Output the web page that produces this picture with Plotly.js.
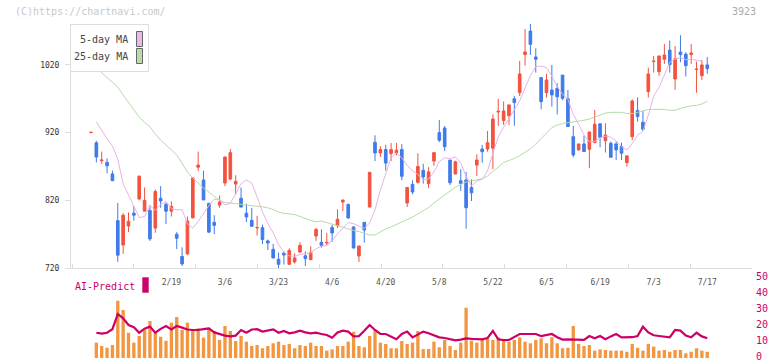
<!DOCTYPE html>
<html>
<head>
<meta charset="utf-8">
<script src="https://cdn.plot.ly/plotly-3.0.1.min.js"></script>
<style>
  html, body { margin: 0; padding: 0; background: #fff; }
  #chart { width: 772px; height: 361px; }
</style>
</head>
<body>
<div id="chart"></div>
<script>
// Daily candles, one per trading session (index 0 = first session shown)
const tickIdx  = [15, 25, 35, 45, 55, 65, 75, 85, 95, 105, 115];
const tickText = ['2/19', '3/6', '3/23', '4/6', '4/20', '5/8', '5/22', '6/5', '6/19', '7/3', '7/17'];

const open = [
  920, 905, 878.5, 876, 859, 790, 754, 782, 801, 822,
  804, 805, 779, 823, 814, 804, 770, 737, 741, 794,
  869, 850, 815.6, 787.5, 813, 845.6, 851.5, 844, 823, 801,
  790.4, 779.3, 779.6, 760, 747.6, 732.8, 742.2, 725.4, 729, 743.6,
  738, 732.3, 767.3, 758, 757, 780, 782.6, 817.5, 814, 780.6,
  737.7, 787.5, 810, 905.7, 890, 895, 889, 890, 895, 816,
  843.6, 846.6, 864.3, 844.6, 878, 920, 926.8, 879.5, 858.8, 849,
  850, 839, 872, 895.8, 895.8, 897, 950.5, 938, 945, 970,
  979, 1035.3, 1070, 1031.8, 1001.3, 979, 983, 985.5, 1005, 970,
  914, 894.5, 903.3, 895.4, 905.3, 933, 908, 904.3, 903.3, 899.4,
  875.8, 914, 952.6, 935.3, 980.6, 1025, 1010, 1028.4, 1042, 999.3,
  1039, 1036, 1035.3, 1013.4, 1004, 1020
];
const high = [
  920.6, 908, 892, 882, 864, 816, 801, 802, 811, 857,
  839, 813, 836, 841, 817, 818.5, 773, 750.5, 796, 854.5,
  892, 864, 815.6, 798, 827, 884.5, 896, 857, 839, 815,
  809, 797, 784, 762, 755.5, 742.7, 744.6, 749, 741.7, 758,
  744.6, 752, 779, 777, 771.7, 784, 806.7, 822, 815, 781.6,
  752.5, 787.5, 861.4, 916, 900, 902, 904.7, 904.7, 903, 839,
  849.6, 889.5, 874, 869, 890.4, 938.6, 929.7, 879.5, 878.5, 866,
  862, 851, 888, 902, 922.5, 947, 970, 966, 961, 974,
  1026, 1073, 1080.5, 1044.6, 1001.3, 1006.7, 1020, 993, 1005, 983,
  930, 903.3, 915.6, 921, 953.5, 933, 934, 906.8, 906.8, 905.3,
  887, 969, 972, 952, 1016, 1033.3, 1033.3, 1051, 1056, 1048,
  1064, 1038.7, 1051, 1025, 1027.4, 1031.8
];
const low = [
  919.6, 876, 874, 860, 849, 729, 741, 773, 790, 820,
  804, 760, 772, 809, 785, 796, 748, 723, 739, 794,
  863, 820.5, 772, 770, 809, 841, 849.6, 829, 810, 788,
  781.6, 768, 755.5, 746.6, 734.8, 720, 725, 725.4, 726.4, 742,
  723, 732.3, 760, 750, 754, 758.4, 779, 804, 792.4, 748.6,
  729, 757.4, 810, 878, 884, 864, 878, 886.5, 849.6, 810,
  829, 844.6, 844.6, 838, 871, 906, 892.8, 842.6, 858.8, 834,
  778, 819, 856, 875.5, 891.8, 866, 930, 931.4, 931.4, 930,
  974, 1019, 1034.8, 1008.7, 954.5, 971.8, 958.5, 947, 968, 929,
  883.6, 893.5, 892, 867.4, 904.3, 898.4, 890.5, 883.6, 879.7, 879.7,
  870, 909, 936.3, 922.5, 971.8, 1008.7, 1004, 1021.5, 1008.7, 983,
  1024, 1002.8, 1021.5, 979, 997.8, 1007
];
const close = [
  920.5, 884, 879.5, 871, 849, 739, 798, 789, 798, 855.5,
  820, 763, 833, 819, 804, 811, 764, 726, 789.5, 853,
  872, 820.5, 773, 783, 817.5, 884, 890.4, 848, 810, 795.4,
  781.6, 779.8, 762, 757, 734.8, 725.4, 739.2, 746, 734.8, 753.5,
  733.8, 743, 777, 753.5, 757.8, 771.7, 792, 820, 794, 749.6,
  752.5, 776.2, 861.4, 890, 895, 875, 895, 894, 855.5, 839,
  832.3, 870, 854.5, 862, 890.4, 908.7, 899.2, 846, 877, 845,
  809, 831, 879.5, 891.8, 905, 940, 951.5, 952, 961, 964.4,
  1006.7, 1039.2, 1050.5, 1028.4, 965.8, 997.8, 975.7, 973, 970.8, 929,
  887, 903.3, 892, 921, 932.4, 913, 916.6, 883.6, 894.5, 889.5,
  885.6, 966.8, 943.7, 925, 1006.7, 1025.6, 1033.3, 1034.8, 1020.5, 1029,
  1035.3, 1019, 1037.7, 1013.8, 1020, 1014.6
];

// Moving averages as plotted
const ma5 = [
  null, 936, 923, 911, 900, 880.8, 844.5, 827.3, 809.2, 794.6,
  795.9, 812.1, 805.1, 813.9, 818.1, 807.8, 806, 806.2, 784.8, 778.9,
  788.7, 800.9, 812.2, 821.6, 820.3, 813.2, 815.6, 829.6, 844.6, 850,
  845.6, 825.1, 803, 785.8, 772, 755, 743, 738, 737, 739.8,
  741.5, 742.2, 748.4, 752.2, 753, 760.6, 770.4, 779, 787.1, 785.5,
  781.6, 778.5, 786.7, 805.9, 835, 859.5, 883.3, 889.8, 882.9, 871.7,
  863.2, 858.2, 850.3, 851.6, 861.8, 877.1, 883, 881.3, 884.3, 875.2,
  855.2, 841.6, 848.3, 851.3, 863.3, 889.5, 913.6, 928.1, 941.9, 953.8,
  967.1, 984.7, 1004.4, 1017.8, 1018.1, 1016.3, 1003.6, 988.1, 976.6, 969.3,
  947.1, 932.6, 916.4, 906.5, 907.1, 912.3, 915, 913.3, 908, 899.4,
  894, 904, 916, 922.1, 945.6, 973.6, 986.9, 1005.1, 1024.2, 1028.6,
  1030.6, 1027.7, 1028.3, 1027, 1025.2
];
const ma25 = [
  null, 1016, 1008, 1001.2, 994.4, 987.5, 975.5, 965, 954.1, 943,
  934.9, 928.7, 918, 909, 901.7, 895, 887, 875, 861.8, 853,
  844.8, 838.2, 832.3, 825.6, 820.4, 816.7, 816, 815.6, 814.1, 813,
  812.3, 811.6, 810.4, 808.9, 806.4, 802.7, 800.6, 800, 798.9, 796.1,
  793.1, 790.2, 788.4, 789.4, 787.2, 784.7, 782, 779.8, 777.6, 775.4,
  773.8, 771, 768.7, 768.7, 773.2, 777.6, 780.6, 784.2, 787.9, 791.6,
  795.3, 799.8, 804.2, 809.4, 816, 821.9, 828.6, 834.2, 839.6, 843.6,
  847, 848.8, 850.3, 851.7, 855.9, 862.5, 869.2, 875.8, 878.8, 881.7,
  886.2, 890.6, 895.8, 903.1, 910.5, 919.4, 927.5, 931.2, 933.4, 934.6,
  935.2, 936.4, 938.2, 940.1, 943, 945.2, 948.9, 950, 950, 950,
  948.2, 948, 950, 951.9, 954.1, 954.4, 954.4, 954.4, 952.9, 953.1,
  955.9, 957.8, 959.6, 960.3, 962.2, 966.7
];

// Lower panel: traded volume (scaled) and AI-Predict score (right axis)
const volume = [
  null, 9.6, 7.5, 6.4, 8.1, 35.8, 30, 15.8, 9.6, 13.8,
  17.5, 23.1, 15.8, 13.3, 10.8, 22.1, 25.6, 17.5, 22.1, 17.9,
  18.6, 12.7, 18.9, 16.9, 11.3, 20, 16.9, 10.6, 13.8, 10.2,
  7.5, 8.1, 6.1, 7.5, 9.2, 10.2, 8.1, 8.8, 6.1, 8.1,
  7.5, 9.6, 7.5, 7.5, 4.6, 5.4, 7.5, 7.5, 10.2, 16.4,
  7.5, 6.7, 13.8, 17.5, 9.6, 8.8, 6.1, 6.1, 10.6, 8.8,
  9.6, 16.9, 5.6, 5.6, 10.2, 6.7, 11.3, 7.5, 5, 9.6,
  31.4, 10.8, 9.6, 12.3, 12.3, 11.3, 12.9, 10.5, 10.2, 11.3,
  12.9, 10.2, 9.2, 11.3, 12.3, 9.2, 12.9, 9.2, 6.1, 6.4,
  20, 8.8, 7.5, 8.1, 4.6, 5.4, 5, 4.6, 4.6, 4.6,
  3.9, 8.8, 6.4, 4.6, 8.8, 7.1, 4.6, 5, 3.9, 5,
  5, 2.9, 3.9, 6.1, 4.6, 3.9
];
const aiPredict = [
  null, 15.8, 15.2, 15.8, 18, 27.5, 24.8, 20.6, 19.3, 15.8,
  18.3, 19.6, 15.8, 18.2, 20, 17.9, 20, 19, 17.8, 17.5,
  17.5, 18, 18.5, 16, 15, 14, 13.5, 14, 17.5, 15.8,
  17.8, 18, 16.5, 17, 17.9, 15.8, 16.9, 15.4, 16, 17.1,
  16, 15.4, 15.8, 15, 14.4, 12.7, 16, 17.1, 16.5, 13.5,
  13.7, 17, 20.6, 17.5, 15, 15, 13.5, 11.7, 15, 16.5,
  12.9, 14.5, 16.5, 15.5, 14, 12.9, 12.5, 11.7, 11, 11.5,
  12.3, 12, 11.7, 11.7, 12.5, 16.9, 11.7, 11.2, 11.3, 13.3,
  15, 15, 15, 15, 13.75, 14.4, 15, 13, 11.5, 11.7,
  11.7, 11.5, 11.3, 13.75, 12.3, 13.75, 11.7, 13.5, 15, 12.9,
  12.9, 13, 13.75, 19.6, 16, 14.2, 13.75, 13.2, 12.9, 17.5,
  17.1, 14, 12.9, 15.8, 13.5, 12.3
];

const idx = close.map((_, i) => i);

// ---- page geometry (pixels) ----
const W = 772, H = 361;
const M = { l: 71, r: 20, t: 24, b: 3 };
const plotW = W - M.l - M.r, plotH = H - M.t - M.b;
const px = x => (x - M.l) / plotW;          // pixel x -> paper x
const py = y => (H - M.b - y) / plotH;      // pixel y -> paper y

const RED = '#f2533f', BLUE = '#3f7be9', PINK = '#e6b4e6', GREEN = '#b4dca8';
const CRIMSON = '#cc0066', ORANGE = '#f29640';
const MONO = 'DejaVu Sans Mono';
const XR = [-3.73, 123.35];

const traces = [
  {
    type: 'candlestick', x: idx, open: open, high: high, low: low, close: close,
    xaxis: 'x', yaxis: 'y',
    increasing: { line: { color: RED, width: 1 }, fillcolor: RED },
    decreasing: { line: { color: BLUE, width: 1 }, fillcolor: BLUE },
    whiskerwidth: 0, hoverinfo: 'skip', showlegend: false
  },
  { type: 'scatter', mode: 'lines', x: idx, y: ma25, xaxis: 'x', yaxis: 'y',
    line: { color: GREEN, width: 1 }, hoverinfo: 'skip', showlegend: false },
  { type: 'scatter', mode: 'lines', x: idx, y: ma5, xaxis: 'x', yaxis: 'y',
    line: { color: PINK, width: 1 }, hoverinfo: 'skip', showlegend: false },
  { type: 'scatter', mode: 'markers', x: [], y: [], xaxis: 'x3', yaxis: 'y',
    hoverinfo: 'skip', showlegend: false },
  { type: 'bar', x: idx, y: volume, xaxis: 'x2', yaxis: 'y2', width: 0.62,
    marker: { color: ORANGE, line: { width: 0 } }, hoverinfo: 'skip', showlegend: false },
  { type: 'scatter', mode: 'lines', x: idx, y: aiPredict, xaxis: 'x2', yaxis: 'y3',
    line: { color: CRIMSON, width: 2.2 }, hoverinfo: 'skip', showlegend: false }
];

const mainBottom = py(268), lowerTop = py(278);

const layout = {
  width: W, height: H, margin: M,
  paper_bgcolor: '#fff', plot_bgcolor: '#fff',
  font: { family: MONO, size: 10, color: '#444' },
  showlegend: false, hovermode: false,
  xaxis: {
    domain: [0, 1], anchor: 'y', range: XR,
    tickmode: 'array', tickvals: tickIdx, ticktext: tickText, ticks: '',
    showline: true, linecolor: '#dddddd', linewidth: 1,
    showgrid: false, zeroline: false,
    tickfont: { family: MONO, size: 8, color: '#555' },
    ticklabelstandoff: 6,
    rangeslider: { visible: false }
  },
  xaxis3: {
    overlaying: 'x', anchor: 'y', range: XR,
    tickmode: 'linear', tick0: -3.54, dtick: 11.535,
    ticks: 'inside', ticklen: 4, tickcolor: '#dddddd',
    showticklabels: false, showline: false, showgrid: false, zeroline: false
  },
  yaxis: {
    domain: [mainBottom, 1], anchor: 'x', range: [720, 1080.5],
    tickmode: 'array', tickvals: [720, 820, 920, 1020],
    ticks: 'outside', ticklen: 5, tickcolor: '#dddddd',
    showline: true, linecolor: '#dddddd', linewidth: 1,
    showgrid: false, zeroline: false,
    tickfont: { family: MONO, size: 8, color: '#333' },
    ticklabelstandoff: 4
  },
  xaxis2: { domain: [0, 1], anchor: 'y2', range: XR, visible: false },
  yaxis2: { domain: [0, lowerTop], anchor: 'x2', range: [0, 50], visible: false },
  yaxis3: {
    overlaying: 'y2', side: 'right', anchor: 'x2', range: [0, 50],
    tickmode: 'array', tickvals: [0, 10, 20, 30, 40, 50], ticks: '',
    showline: false, showgrid: false, zeroline: false,
    tickfont: { family: MONO, size: 10, color: CRIMSON },
    ticklabelstandoff: 3, ticklabelshift: -2, ticklabeloverflow: 'allow'
  },
  shapes: [
    // moving-average legend box
    { type: 'rect', xref: 'paper', yref: 'paper', layer: 'above',
      x0: px(70.5), x1: px(148.5), y0: py(71.5), y1: py(24.5),
      line: { color: '#dddddd', width: 1 }, fillcolor: '#ffffff' },
    { type: 'rect', xref: 'paper', yref: 'paper', layer: 'above',
      x0: px(136.5), x1: px(142.5), y0: py(46.5), y1: py(31.5),
      line: { color: '#666666', width: 1 }, fillcolor: '#ebb8eb' },
    { type: 'rect', xref: 'paper', yref: 'paper', layer: 'above',
      x0: px(136.5), x1: px(142.5), y0: py(63.5), y1: py(48.5),
      line: { color: '#666666', width: 1 }, fillcolor: '#b8dcac' },
    // AI-Predict key
    { type: 'rect', xref: 'paper', yref: 'paper', layer: 'above',
      x0: px(142.3), x1: px(148.7), y0: py(292.7), y1: py(277.3),
      line: { width: 0 }, fillcolor: CRIMSON }
  ],
  annotations: [
    { xref: 'paper', yref: 'paper', x: px(13), y: py(12), xanchor: 'left', yanchor: 'middle',
      text: '(C)https://chartnavi.com/', showarrow: false,
      font: { family: MONO, size: 10, color: '#c8c8c8' } },
    { xref: 'paper', yref: 'paper', x: px(758), y: py(12), xanchor: 'right', yanchor: 'middle',
      text: '3923', showarrow: false,
      font: { family: MONO, size: 10, color: '#aaaaaa' } },
    { xref: 'paper', yref: 'paper', x: px(130), y: py(39.5), xanchor: 'right', yanchor: 'middle',
      text: '5-day MA', showarrow: false,
      font: { family: MONO, size: 10, color: '#444' } },
    { xref: 'paper', yref: 'paper', x: px(130), y: py(56.5), xanchor: 'right', yanchor: 'middle',
      text: '25-day MA', showarrow: false,
      font: { family: MONO, size: 10, color: '#444' } },
    { xref: 'paper', yref: 'paper', x: px(73), y: py(286), xanchor: 'left', yanchor: 'middle',
      text: 'AI-Predict', showarrow: false,
      font: { family: MONO, size: 10, color: CRIMSON } }
  ]
};

Plotly.newPlot('chart', traces, layout, { staticPlot: true, displayModeBar: false });
</script>
</body>
</html>
